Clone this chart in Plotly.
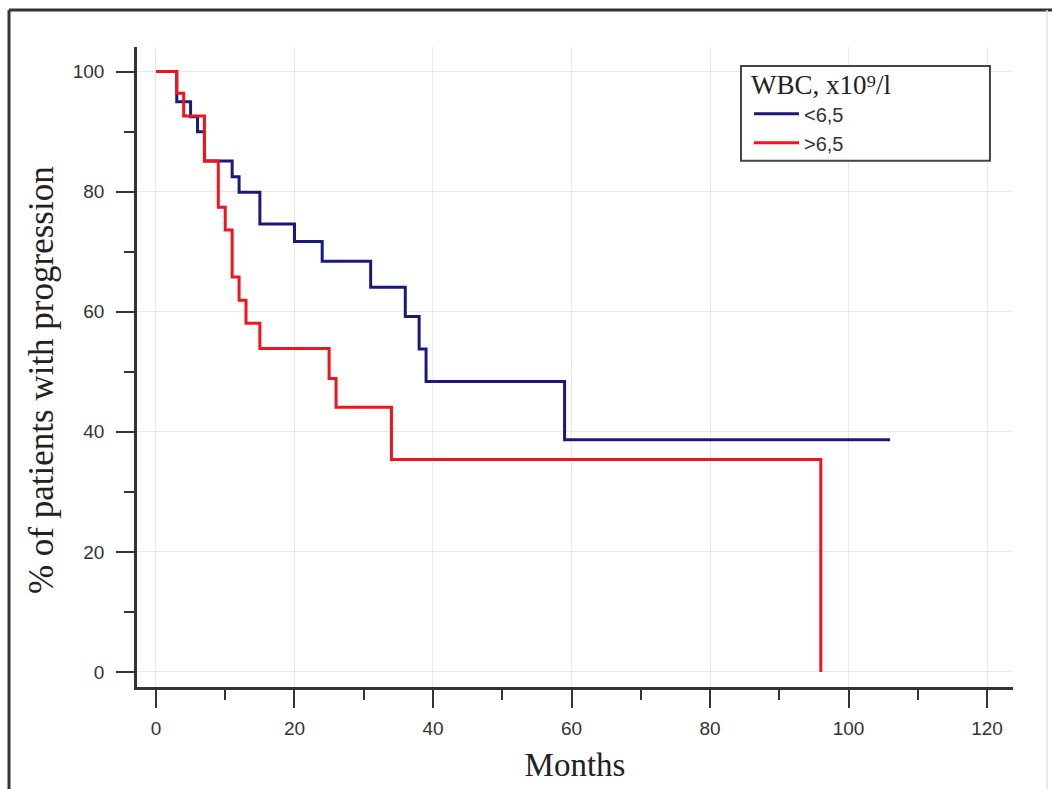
import plotly.graph_objects as go

# Kaplan-Meier step data
months_low = [0, 3, 5, 6, 7, 11, 12, 15, 20, 24, 31, 36, 38, 39, 59, 106]
pct_low = [100, 95.0, 92.5, 90.0, 85.1, 82.5, 79.9, 74.6, 71.7, 68.4, 64.1, 59.2, 53.8, 48.4, 38.7, 38.7]

months_high = [0, 3, 4, 7, 9, 10, 11, 12, 13, 15, 25, 26, 34, 96]
pct_high = [100, 96.4, 92.6, 85.1, 77.4, 73.6, 65.8, 61.9, 58.1, 53.9, 48.9, 44.1, 35.4, 0]

series_names = ["<6,5", ">6,5"]
legend_title = "WBC, x10⁹/l"
x_title = "Months"
y_title = "% of patients with progression"

x_ticks = [0, 20, 40, 60, 80, 100, 120]
y_ticks = [0, 20, 40, 60, 80, 100]

fig = go.Figure()
fig.add_trace(go.Scatter(x=months_low, y=pct_low, mode="lines", name=series_names[0],
                         line=dict(shape="hv", color="#1a1a7c", width=3)))
fig.add_trace(go.Scatter(x=months_high, y=pct_high, mode="lines", name=series_names[1],
                         line=dict(shape="hv", color="#f0141e", width=3)))

axis_common = dict(
    showline=True, linecolor="#333333", linewidth=2.5,
    ticks="outside", ticklen=18, tickwidth=2, tickcolor="#333333",
    showgrid=True, gridcolor="#e8e8e8", gridwidth=1,
    zeroline=False, automargin=False,
    tickfont=dict(family="Liberation Sans, Arial, sans-serif", size=19, color="#333333"),
)

fig.update_xaxes(
    range=[-2.74, 123.75], tickmode="array", tickvals=x_ticks,
    minor=dict(ticks="outside", ticklen=10, tickwidth=2, tickcolor="#333333", dtick=10, showgrid=False),
    ticklabelstandoff=4,
    title=dict(text=x_title, standoff=16,
               font=dict(family="Liberation Serif, Times New Roman, serif", size=33, color="#222222")),
    **axis_common,
)
fig.update_yaxes(
    range=[-2.5, 104.1], tickmode="array", tickvals=y_ticks,
    minor=dict(ticks="outside", ticklen=10, tickwidth=2, tickcolor="#333333", dtick=10, showgrid=False),
    ticklabelstandoff=8,
    **axis_common,
)

fig.update_layout(
    width=1052, height=789,
    margin=dict(l=137, r=39, t=47, b=102),
    plot_bgcolor="white", paper_bgcolor="white",
    legend=dict(
        x=0.6986, y=0.981, xanchor="left", yanchor="top",
        bgcolor="rgba(0,0,0,0)", borderwidth=0,
        title=dict(text=legend_title,
                   font=dict(family="Liberation Serif, Times New Roman, serif", size=27, color="#222222")),
        font=dict(family="Liberation Sans, Arial, sans-serif", size=20, color="#333333"),
        itemwidth=45, tracegroupgap=0,
    ),
    annotations=[
        dict(text=y_title, xref="paper", yref="paper", x=-0.1084, y=0.4797,
             xanchor="center", yanchor="middle", textangle=-90, showarrow=False,
             font=dict(family="Liberation Serif, Times New Roman, serif", size=35, color="#222222")),
    ],
    shapes=[
        # legend frame
        dict(type="rect", xref="paper", yref="paper", x0=0.6895, x1=0.9737, y0=0.8223, y1=0.9703,
             fillcolor="white", line=dict(color="#444444", width=2), layer="above"),
        # outer image frame
        dict(type="line", xref="paper", yref="paper", x0=-0.1461, x1=1.05, y0=1.0578, y1=1.0578,
             line=dict(color="#333333", width=3)),
        dict(type="line", xref="paper", yref="paper", x0=-0.1461, x1=-0.1461, y0=1.0578, y1=-0.17,
             line=dict(color="#333333", width=3)),
        dict(type="line", xref="paper", yref="paper", x0=1.0388, x1=1.0388, y0=1.0578, y1=-0.17,
             line=dict(color="#e4e4e4", width=1.5)),
    ],
)

fig.write_html("out.html")
